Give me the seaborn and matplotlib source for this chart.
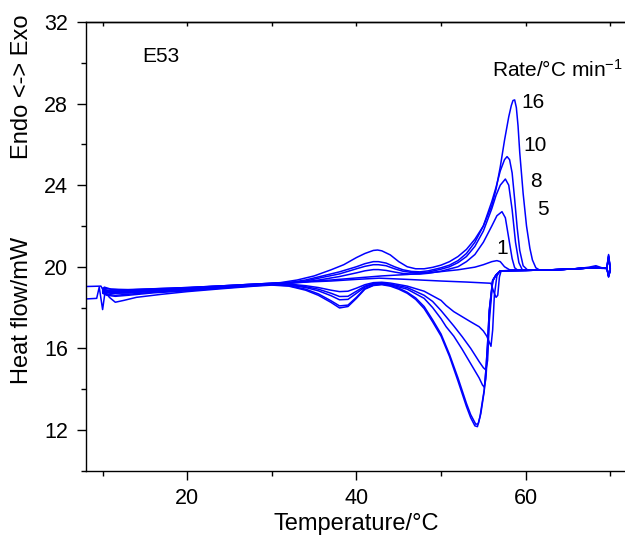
import matplotlib
matplotlib.use("Agg")
import matplotlib.pyplot as plt
from matplotlib.ticker import FixedLocator
import pandas as pd
import seaborn as sns

# ---------------- data ----------------
# upper (exothermic) curves
U16_T = [8.0, 9.8, 10.0, 10.2, 11, 12.5, 15, 20, 25, 29, 31, 33, 35, 37, 38.5, 40, 41, 42, 42.5, 43, 44, 45, 46, 47, 48, 49, 50, 51, 52, 53, 54, 55, 56, 56.5, 57, 57.5, 58, 58.3, 58.5, 58.7, 58.9, 59.1, 59.3, 59.7, 60.1, 60.5, 60.8, 61.2, 61.6, 63, 66, 67.5, 68.3, 69, 69.6, 69.8, 70.0]
U16_H = [19.03, 19.05, 18.9, 19.0, 18.9, 18.85, 18.9, 18.98, 19.08, 19.17, 19.22, 19.35, 19.55, 19.85, 20.1, 20.45, 20.65, 20.8, 20.82, 20.78, 20.58, 20.25, 20.0, 19.9, 19.9, 19.97, 20.08, 20.25, 20.5, 20.85, 21.35, 22.0, 23.0, 23.8, 24.9, 26.2, 27.35, 27.9, 28.15, 28.18, 27.8, 26.9, 25.6, 23.6, 22.0, 20.9, 20.33, 19.95, 19.85, 19.85, 19.9, 19.98, 20.05, 19.95, 19.95, 20.6, 19.9]

U10_T = [10.0, 11, 13, 16, 20, 25, 29, 32, 34, 36, 38, 40, 41, 42, 42.6, 43.5, 44.5, 45.5, 46.5, 47.5, 48.5, 50, 51, 52, 53, 54, 55, 56, 56.5, 57, 57.5, 57.8, 58.1, 58.4, 58.7, 59.0, 59.3, 59.7, 60.2, 62, 65, 68, 69.6, 69.8, 70.0]
U10_H = [18.85, 18.8, 18.8, 18.88, 18.95, 19.05, 19.15, 19.22, 19.35, 19.55, 19.75, 20.0, 20.15, 20.25, 20.25, 20.18, 20.0, 19.85, 19.77, 19.75, 19.8, 19.95, 20.08, 20.3, 20.65, 21.2, 22.0, 23.2, 23.9, 24.7, 25.25, 25.4, 25.25, 24.6, 23.3, 21.9, 20.8, 20.05, 19.85, 19.83, 19.88, 19.95, 19.95, 20.55, 19.9]

U8_T = [10.0, 11, 13, 16, 20, 25, 29, 32, 34, 36, 38, 40, 41, 42, 42.6, 43.5, 44.5, 45.5, 46.5, 47.5, 48.5, 50, 51, 52, 53, 54, 55, 56, 56.5, 57, 57.6, 58.0, 58.4, 58.8, 59.2, 59.6, 62, 65, 68, 69.6, 69.8, 70.0]
U8_H = [18.8, 18.75, 18.75, 18.83, 18.92, 19.03, 19.14, 19.2, 19.3, 19.48, 19.65, 19.9, 20.02, 20.1, 20.1, 20.05, 19.9, 19.78, 19.72, 19.7, 19.74, 19.88, 20.0, 20.2, 20.5, 21.0, 21.75, 22.85, 23.5, 24.0, 24.3, 24.0, 22.8, 21.2, 20.2, 19.85, 19.83, 19.88, 19.95, 19.95, 20.5, 19.9]

U5_T = [10.0, 11, 13, 16, 20, 25, 29, 32, 34, 36, 38, 40, 41, 42, 42.6, 43.5, 44.5, 45.5, 46.5, 47.5, 48.5, 50, 52, 53, 54, 55, 56, 56.6, 57.2, 57.6, 58.0, 58.4, 58.7, 59.0, 62, 65, 68, 69.6, 69.8, 70.0]
U5_H = [18.75, 18.7, 18.72, 18.8, 18.9, 19.02, 19.13, 19.18, 19.25, 19.38, 19.52, 19.7, 19.8, 19.86, 19.86, 19.82, 19.74, 19.67, 19.64, 19.64, 19.68, 19.78, 20.0, 20.25, 20.6, 21.2, 22.0, 22.5, 22.7, 22.4, 21.4, 20.4, 19.95, 19.85, 19.83, 19.88, 19.95, 19.95, 20.5, 19.9]

U1_T = [10.0, 11, 13, 16, 20, 25, 29, 33, 37, 40, 43, 46, 49, 52, 54, 55, 56, 56.6, 57.0, 57.5, 58.1, 62, 65, 68, 69.6, 69.8, 70.0]
U1_H = [18.95, 18.9, 18.88, 18.92, 18.98, 19.08, 19.17, 19.25, 19.35, 19.45, 19.55, 19.62, 19.72, 19.85, 19.98, 20.1, 20.25, 20.3, 20.25, 20.0, 19.85, 19.83, 19.88, 19.95, 19.95, 20.45, 19.9]

# lower (endothermic) curves
LA_T = [8.0, 9.3, 9.6, 10.0, 10.3, 10.8, 11.5, 12.5, 14, 17, 20, 24, 28, 30, 32, 34, 35.5, 37, 38, 39, 40, 41, 42, 43, 44, 45, 46, 47, 48, 49, 50, 51, 52, 53, 53.5, 54.0, 54.3, 54.6, 55.1, 55.3, 55.5, 55.7, 56.1, 56.5, 57.0, 60, 64, 67, 68.3, 69, 69.6, 69.8, 70.0]
LA_H = [18.42, 18.45, 19.0, 17.9, 18.8, 18.5, 18.26, 18.35, 18.5, 18.65, 18.78, 18.92, 19.05, 19.1, 19.05, 18.85, 18.6, 18.25, 17.98, 18.05, 18.45, 18.9, 19.08, 19.12, 19.05, 18.9, 18.7, 18.4, 17.95, 17.3, 16.6, 15.6, 14.4, 13.15, 12.6, 12.2, 12.16, 12.65, 13.96, 14.94, 16.25, 17.88, 19.35, 19.6, 19.8, 19.82, 19.86, 19.92, 20.0, 19.92, 19.92, 19.5, 19.85]

LB_T = [10.0, 10.5, 11.5, 13, 16, 20, 24, 28, 30, 32, 34, 35.5, 37, 38, 39, 40, 41, 42, 43, 44, 45, 46, 47, 48, 49, 50, 51, 52, 53, 53.5, 54.1, 54.4, 54.7, 55.1, 55.3, 55.5, 55.7, 56.1, 56.5, 57.0, 60, 64, 68, 69.6, 69.8, 70.0]
LB_H = [18.7, 18.6, 18.55, 18.6, 18.72, 18.82, 18.95, 19.07, 19.12, 19.07, 18.9, 18.67, 18.33, 18.08, 18.12, 18.5, 18.93, 19.1, 19.15, 19.08, 18.95, 18.75, 18.47, 18.05, 17.4, 16.7, 15.7, 14.55, 13.3, 12.75, 12.28, 12.3, 12.8, 13.9, 14.9, 16.2, 17.85, 19.3, 19.6, 19.8, 19.82, 19.86, 19.95, 19.92, 19.55, 19.85]

LC_T = [10.0, 10.5, 11.5, 13, 16, 20, 24, 28, 30, 32, 34, 35.5, 37, 38, 39, 40, 41, 42, 43, 44, 46, 48, 49, 50, 50.6, 51.5, 52.5, 53.5, 54.5, 54.9, 55.1, 55.3, 55.5, 55.7, 56.1, 56.5, 57.0, 60, 64, 68, 69.6, 69.8, 70.0]
LC_H = [18.75, 18.65, 18.6, 18.65, 18.75, 18.85, 18.97, 19.08, 19.13, 19.1, 18.98, 18.82, 18.58, 18.38, 18.4, 18.7, 19.0, 19.15, 19.18, 19.12, 18.9, 18.45, 18.0, 17.45, 17.06, 16.6, 15.95, 15.25, 14.55, 14.2, 14.1, 14.5, 15.9, 17.7, 19.3, 19.6, 19.8, 19.82, 19.86, 19.95, 19.92, 19.55, 19.85]

LD_T = [10.0, 11, 13, 16, 20, 24, 28, 30, 32, 34, 35.5, 37, 38, 39, 40, 41, 42, 43, 44, 46, 48, 49, 50, 50.6, 51.5, 52.5, 53.5, 54.5, 55.0, 55.3, 55.5, 55.7, 56.1, 56.5, 57.0, 60, 64, 68, 69.6, 69.8, 70.0]
LD_H = [18.8, 18.7, 18.72, 18.8, 18.9, 19.0, 19.1, 19.15, 19.12, 19.02, 18.9, 18.7, 18.54, 18.55, 18.8, 19.05, 19.18, 19.2, 19.15, 18.98, 18.6, 18.3, 17.85, 17.55, 17.1, 16.57, 16.0, 15.35, 15.05, 14.94, 15.4, 17.3, 19.3, 19.6, 19.8, 19.82, 19.86, 19.95, 19.92, 19.55, 19.85]

LE_T = [10.0, 11, 13, 16, 20, 24, 28, 30, 32, 34, 35.5, 37, 38, 39, 40, 41, 42, 43, 44, 46, 48, 50, 50.6, 51.5, 52.5, 53.5, 54.5, 55.0, 55.4, 55.7, 55.9, 56.1, 56.3, 56.6, 57.0, 60, 64, 68, 69.6, 69.8, 70.0]
LE_H = [18.85, 18.78, 18.78, 18.85, 18.93, 19.03, 19.12, 19.17, 19.15, 19.07, 18.98, 18.85, 18.78, 18.8, 18.95, 19.12, 19.22, 19.24, 19.2, 19.05, 18.8, 18.35, 18.1, 17.8, 17.55, 17.3, 17.06, 16.85, 16.6, 16.3, 16.1, 16.9, 18.6, 19.55, 19.8, 19.82, 19.86, 19.95, 19.92, 19.55, 19.85]

LF_T = [10.0, 11, 13, 16, 20, 24, 28, 31, 34, 37, 40, 42.7, 46, 50, 53, 55.9, 56.2, 56.5, 56.7, 56.9, 57.1, 60, 64, 68, 69.6, 69.8, 70.0]
LF_H = [18.9, 18.82, 18.82, 18.88, 18.96, 19.06, 19.15, 19.2, 19.25, 19.3, 19.38, 19.44, 19.38, 19.3, 19.25, 19.19, 18.8, 18.5, 18.6, 19.5, 19.8, 19.82, 19.86, 19.95, 19.92, 19.5, 19.85]

curve_names = ["U16", "U10", "U8", "U5", "U1", "LA", "LB", "LC", "LD", "LE", "LF"]
curve_T = [U16_T, U10_T, U8_T, U5_T, U1_T, LA_T, LB_T, LC_T, LD_T, LE_T, LF_T]
curve_H = [U16_H, U10_H, U8_H, U5_H, U1_H, LA_H, LB_H, LC_H, LD_H, LE_H, LF_H]

rate_labels = ["16", "10", "8", "5", "1"]
rate_label_pos = [(60.85, 28.04), (61.1, 25.92), (61.2, 24.17), (62.0, 22.82), (57.2, 20.87)]

x_major = [20, 40, 60]
x_minor = [10, 30, 50, 70]
y_major = [12, 16, 20, 24, 28, 32]
y_minor = [10, 14, 18, 22, 26, 30]

# ---------------- build table ----------------
rows = []
for name, ts, hs in zip(curve_names, curve_T, curve_H):
    for i, (t, h) in enumerate(zip(ts, hs)):
        rows.append({"curve": name, "order": i, "T": t, "HF": h})
df = pd.DataFrame(rows)

# ---------------- style ----------------
sns.set_style("ticks")
plt.rcParams["font.family"] = ["Liberation Sans", "DejaVu Sans"]
plt.rcParams["mathtext.default"] = "regular"
plt.rcParams["axes.linewidth"] = 1.0
for key in ["text.color", "axes.labelcolor", "xtick.color", "ytick.color", "axes.edgecolor"]:
    plt.rcParams[key] = "black"

fig = plt.figure(figsize=(6.25, 5.36), dpi=100)
ax = fig.add_axes([0.1371, 0.1218, 0.8629, 0.8372])

sns.lineplot(data=df, x="T", y="HF", units="curve", estimator=None, sort=False,
             color="#0000ff", lw=1.1, ax=ax, legend=False)

ax.set_xlim(8.0, 71.74)
ax.set_ylim(10, 32)
ax.set_xlabel("")
ax.set_ylabel("")

ax.xaxis.set_major_locator(FixedLocator(x_major))
ax.xaxis.set_minor_locator(FixedLocator(x_minor))
ax.yaxis.set_major_locator(FixedLocator(y_major))
ax.yaxis.set_minor_locator(FixedLocator(y_minor))

for side in ["top", "left", "bottom"]:
    ax.spines[side].set_visible(True)
    ax.spines[side].set_color("black")
    ax.spines[side].set_linewidth(1.0)
ax.spines["right"].set_visible(False)

ax.tick_params(axis="both", which="major", direction="out", length=6.7, width=1.0,
               labelsize=15.5, pad=6, colors="black")
ax.tick_params(axis="both", which="minor", direction="out", length=3.4, width=1.0,
               colors="black")
ax.tick_params(axis="x", which="both", top=False)
ax.tick_params(axis="y", which="both", right=False)

sec = ax.secondary_xaxis("top")
sec.xaxis.set_major_locator(FixedLocator(x_major))
sec.xaxis.set_minor_locator(FixedLocator(x_minor))
sec.tick_params(axis="x", which="both", direction="in", length=3.0, width=1.0,
                labeltop=False, colors="black")
sec.spines["top"].set_linewidth(1.0)
sec.spines["top"].set_color("black")

# annotations
ax.text(16.9, 30.33, "E53", fontsize=15, ha="center", va="center", color="black")
ax.text(56.0, 29.65, "Rate/°C min$^{-1}$", fontsize=15, ha="left", va="center", color="black")
for lab, (tx, ty) in zip(rate_labels, rate_label_pos):
    ax.text(tx, ty, lab, fontsize=15, ha="center", va="center", color="black")

fig.text(0.5704, 0.022, "Temperature/°C", fontsize=17, ha="center", va="center", color="black")
fig.text(0.036, 0.4216, "Heat flow/mW", fontsize=17, ha="center", va="center", rotation=90, color="black")
fig.text(0.036, 0.838, "Endo <-> Exo", fontsize=17, ha="center", va="center", rotation=90, color="black")

fig.savefig("out.png", dpi=100)
